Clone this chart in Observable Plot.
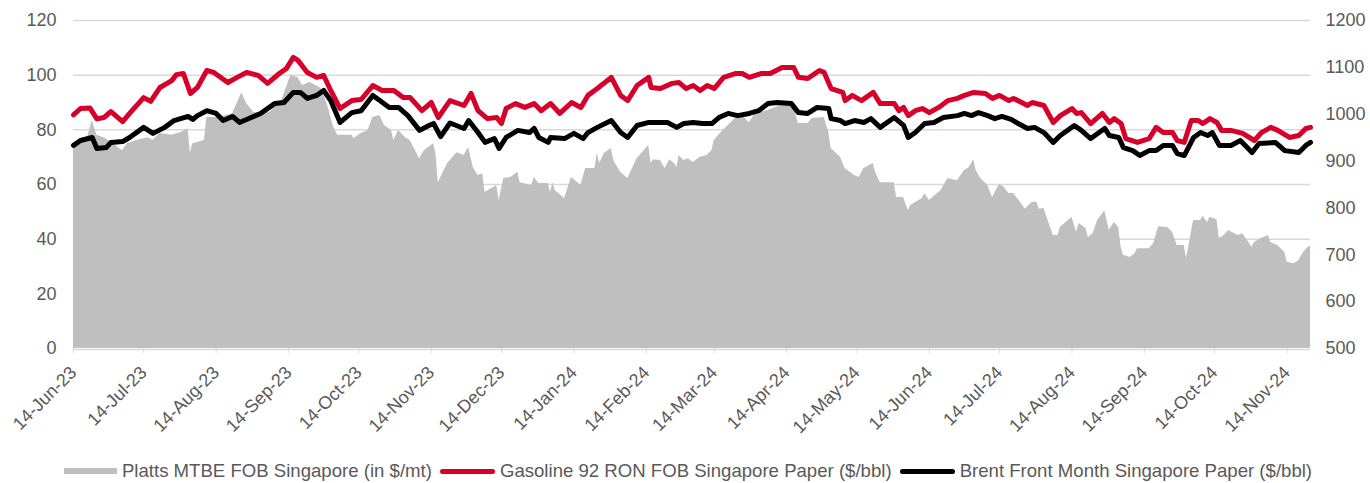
<!DOCTYPE html>
<html><head><meta charset="utf-8">
<script src="https://cdn.jsdelivr.net/npm/d3@7"></script>
<script src="https://cdn.jsdelivr.net/npm/@observablehq/plot@0.6"></script>
<style>
html,body{margin:0;padding:0;background:#fff;}
#chart{width:1370px;height:440px;}
#legend{display:flex;justify-content:center;align-items:center;height:22px;margin-top:20px;padding-left:14px;font-family:"Liberation Sans",Arial,sans-serif;font-size:18.6px;color:#595959;white-space:nowrap;}
.sw{display:inline-block;width:53px;margin-right:5px;}
.item{display:flex;align-items:center;margin-right:8px;}
</style></head>
<body>
<div id="chart"></div>
<div id="legend"></div>
<script>
const seriesNames = ["Platts MTBE FOB Singapore (in $/mt)","Gasoline 92 RON FOB Singapore Paper ($/bbl)","Brent Front Month Singapore Paper ($/bbl)"];
const leftTicks = [0,20,40,60,80,100,120];
const rightTicks = [500,600,700,800,900,1000,1100,1200];

const gasDates = ["2023-06-14","2023-06-17","2023-06-21","2023-06-24","2023-06-27","2023-06-30","2023-07-05","2023-07-08","2023-07-14","2023-07-17","2023-07-21","2023-07-26","2023-07-28","2023-07-31","2023-08-03","2023-08-06","2023-08-10","2023-08-13","2023-08-19","2023-08-23","2023-08-27","2023-09-01","2023-09-05","2023-09-10","2023-09-13","2023-09-16","2023-09-18","2023-09-22","2023-09-26","2023-09-29","2023-10-02","2023-10-06","2023-10-11","2023-10-15","2023-10-20","2023-10-24","2023-10-29","2023-11-02","2023-11-05","2023-11-10","2023-11-14","2023-11-17","2023-11-22","2023-11-28","2023-12-01","2023-12-04","2023-12-08","2023-12-12","2023-12-14","2023-12-16","2023-12-20","2023-12-24","2023-12-28","2023-12-31","2024-01-04","2024-01-08","2024-01-13","2024-01-17","2024-01-20","2024-01-24","2024-01-30","2024-02-03","2024-02-06","2024-02-10","2024-02-15","2024-02-16","2024-02-20","2024-02-25","2024-02-28","2024-03-02","2024-03-05","2024-03-08","2024-03-11","2024-03-14","2024-03-18","2024-03-23","2024-03-26","2024-03-29","2024-04-03","2024-04-07","2024-04-12","2024-04-17","2024-04-19","2024-04-23","2024-04-28","2024-04-30","2024-05-03","2024-05-08","2024-05-09","2024-05-12","2024-05-16","2024-05-21","2024-05-24","2024-05-30","2024-06-01","2024-06-03","2024-06-05","2024-06-08","2024-06-11","2024-06-14","2024-06-18","2024-06-22","2024-06-26","2024-06-29","2024-07-03","2024-07-08","2024-07-11","2024-07-14","2024-07-18","2024-07-20","2024-07-26","2024-07-28","2024-08-02","2024-08-06","2024-08-09","2024-08-14","2024-08-16","2024-08-18","2024-08-22","2024-08-27","2024-08-30","2024-09-01","2024-09-04","2024-09-06","2024-09-11","2024-09-16","2024-09-19","2024-09-22","2024-09-26","2024-09-28","2024-10-01","2024-10-04","2024-10-07","2024-10-09","2024-10-12","2024-10-15","2024-10-17","2024-10-21","2024-10-26","2024-10-31","2024-11-03","2024-11-07","2024-11-10","2024-11-15","2024-11-19","2024-11-22","2024-11-24"];
const gasValues = [85.5,87.8,88,84,84.5,86.7,83,86,91.8,90.4,95.5,98,100.2,100.6,93.3,95.5,101.7,101,97.3,99.2,101,99.9,97,100.6,102.4,106.5,105.4,101,99.2,99.9,94.4,87.8,90.7,91.1,96.2,94.4,94.4,91.8,91.8,87,90,84.5,90.7,88.9,93.3,87,84.1,84.5,82.3,87.8,89.6,88.2,89.6,87,89.6,86,90,88.2,92.6,95.1,99.2,92.6,90.7,96.2,99.2,95.5,95.1,97,97.3,95.1,96.2,94.4,96.2,95.1,99.2,100.6,100.6,99.2,100.6,100.6,102.8,102.8,99.2,98.8,101.7,101,95.1,93.7,90.7,92.6,90.7,93.7,89.6,89.6,87,88.2,85.2,87,87.8,86.3,88.2,90.7,91.5,92.6,93.7,93.3,91.5,92.6,90.7,91.5,88.9,90,88.9,82.7,85.2,87.8,86,86.3,82.3,86,82.7,84.1,82.3,76.8,75.4,76.8,80.9,79,79,76.1,75.4,83.4,83.4,82.3,84.1,82.7,79.8,79.8,78.7,76.1,79,80.9,79.8,77.2,77.9,80.5,80.9];

const brentDates = ["2023-06-14","2023-06-17","2023-06-22","2023-06-24","2023-06-28","2023-06-30","2023-07-05","2023-07-08","2023-07-14","2023-07-18","2023-07-23","2023-07-27","2023-08-02","2023-08-04","2023-08-06","2023-08-10","2023-08-14","2023-08-17","2023-08-21","2023-08-24","2023-08-29","2023-09-02","2023-09-08","2023-09-12","2023-09-16","2023-09-19","2023-09-22","2023-09-26","2023-09-29","2023-10-02","2023-10-06","2023-10-11","2023-10-15","2023-10-20","2023-10-23","2023-10-27","2023-10-31","2023-11-04","2023-11-09","2023-11-13","2023-11-15","2023-11-18","2023-11-22","2023-11-28","2023-11-30","2023-12-04","2023-12-07","2023-12-11","2023-12-13","2023-12-16","2023-12-21","2023-12-26","2023-12-28","2023-12-30","2024-01-03","2024-01-04","2024-01-10","2024-01-14","2024-01-18","2024-01-20","2024-01-24","2024-01-30","2024-02-03","2024-02-06","2024-02-10","2024-02-15","2024-02-20","2024-02-23","2024-02-27","2024-03-01","2024-03-05","2024-03-09","2024-03-13","2024-03-16","2024-03-20","2024-03-24","2024-03-29","2024-04-02","2024-04-06","2024-04-10","2024-04-16","2024-04-19","2024-04-23","2024-04-27","2024-05-02","2024-05-03","2024-05-07","2024-05-09","2024-05-13","2024-05-17","2024-05-20","2024-05-24","2024-05-30","2024-06-03","2024-06-05","2024-06-08","2024-06-12","2024-06-16","2024-06-20","2024-06-26","2024-06-29","2024-07-02","2024-07-05","2024-07-09","2024-07-12","2024-07-15","2024-07-19","2024-07-22","2024-07-26","2024-07-29","2024-08-02","2024-08-06","2024-08-09","2024-08-15","2024-08-18","2024-08-22","2024-08-28","2024-08-30","2024-09-03","2024-09-05","2024-09-09","2024-09-12","2024-09-16","2024-09-19","2024-09-22","2024-09-26","2024-09-28","2024-10-01","2024-10-05","2024-10-08","2024-10-11","2024-10-13","2024-10-16","2024-10-21","2024-10-25","2024-10-30","2024-11-02","2024-11-09","2024-11-13","2024-11-19","2024-11-22","2024-11-24"];
const brentValues = [74.3,76.1,77.2,73.2,73.5,75.4,75.7,77.2,80.9,78.7,80.9,83.4,84.9,83.8,85.2,87,86,83.4,84.9,82.7,84.5,86,89.6,90,93.7,93.7,91.5,92.6,94.4,90.7,82.7,86.3,87,92.6,90.7,88.2,88.2,85.2,79.8,81.6,82.3,77.5,82.5,80.5,83.4,79,75.4,76.8,73.2,77.2,79.8,79,80.5,77.2,75.4,77.2,76.8,78.7,76.8,79,80.9,83.4,79,77.2,81.6,82.7,82.7,82.7,80.9,82.3,82.7,82.3,82.3,84.5,86,85.2,86,87,89.6,90,89.6,86.3,86,88.2,87.8,84.1,83.4,82.3,83.4,82.7,84.1,80.9,84.5,81.6,77.2,79,82.3,82.7,84.5,85.2,86,85.2,86.3,85.2,84.1,84.9,83.8,82.3,80.5,80.9,79,75.4,77.9,81.6,79.8,76.8,80.5,77.9,77.2,73.5,72.4,70.6,72.4,72.4,74.3,74.3,71.3,70.6,77.2,79,77.9,79,74.3,74.3,76.1,71.7,75,75.4,72.4,71.7,74.3,75.4];

const mtbeDates = ["2023-06-14","2023-06-17","2023-06-20","2023-06-22","2023-06-24","2023-06-27","2023-07-01","2023-07-05","2023-07-07","2023-07-11","2023-07-16","2023-07-18","2023-07-21","2023-07-26","2023-07-30","2023-08-02","2023-08-03","2023-08-04","2023-08-09","2023-08-10","2023-08-15","2023-08-21","2023-08-25","2023-08-27","2023-08-30","2023-09-02","2023-09-06","2023-09-11","2023-09-15","2023-09-18","2023-09-20","2023-09-23","2023-09-28","2023-10-01","2023-10-03","2023-10-05","2023-10-11","2023-10-12","2023-10-15","2023-10-18","2023-10-20","2023-10-23","2023-10-25","2023-10-28","2023-10-29","2023-10-31","2023-11-03","2023-11-05","2023-11-09","2023-11-11","2023-11-15","2023-11-16","2023-11-17","2023-11-21","2023-11-25","2023-11-28","2023-11-30","2023-12-02","2023-12-04","2023-12-06","2023-12-07","2023-12-12","2023-12-13","2023-12-15","2023-12-18","2023-12-21","2023-12-22","2023-12-27","2023-12-28","2023-12-30","2024-01-03","2024-01-04","2024-01-05","2024-01-06","2024-01-10","2024-01-13","2024-01-17","2024-01-19","2024-01-23","2024-01-24","2024-01-25","2024-01-27","2024-01-30","2024-01-31","2024-02-03","2024-02-06","2024-02-07","2024-02-10","2024-02-15","2024-02-16","2024-02-17","2024-02-20","2024-02-22","2024-02-24","2024-02-26","2024-02-27","2024-02-28","2024-03-01","2024-03-03","2024-03-05","2024-03-08","2024-03-11","2024-03-13","2024-03-14","2024-03-17","2024-03-20","2024-03-23","2024-03-26","2024-03-29","2024-03-31","2024-04-03","2024-04-06","2024-04-09","2024-04-12","2024-04-15","2024-04-17","2024-04-19","2024-04-23","2024-04-25","2024-04-30","2024-05-02","2024-05-03","2024-05-07","2024-05-09","2024-05-13","2024-05-15","2024-05-17","2024-05-21","2024-05-22","2024-05-24","2024-05-30","2024-05-31","2024-06-03","2024-06-05","2024-06-06","2024-06-11","2024-06-12","2024-06-14","2024-06-19","2024-06-22","2024-06-26","2024-06-29","2024-07-01","2024-07-03","2024-07-04","2024-07-06","2024-07-09","2024-07-11","2024-07-14","2024-07-16","2024-07-18","2024-07-20","2024-07-23","2024-07-25","2024-07-28","2024-07-30","2024-07-31","2024-08-02","2024-08-06","2024-08-08","2024-08-09","2024-08-14","2024-08-16","2024-08-17","2024-08-20","2024-08-21","2024-08-23","2024-08-25","2024-08-28","2024-08-30","2024-09-01","2024-09-03","2024-09-04","2024-09-05","2024-09-08","2024-09-10","2024-09-11","2024-09-16","2024-09-18","2024-09-20","2024-09-24","2024-09-26","2024-09-28","2024-10-01","2024-10-02","2024-10-05","2024-10-08","2024-10-09","2024-10-11","2024-10-12","2024-10-15","2024-10-16","2024-10-18","2024-10-20","2024-10-24","2024-10-26","2024-10-30","2024-10-31","2024-11-03","2024-11-06","2024-11-07","2024-11-10","2024-11-13","2024-11-14","2024-11-17","2024-11-19","2024-11-21","2024-11-23","2024-11-24"];
const mtbeValues = [930,944,950,986,955,950,937,922,937,944,950,944,959,955,961,969,916,937,944,993,993,1001,1046,1023,1004,1001,1004,1029,1083,1078,1061,1068,1055,1014,976,955,955,948,959,965,993,997,976,965,944,965,950,944,905,922,937,916,854,895,918,912,929,886,869,873,833,848,816,863,865,876,854,848,865,852,852,833,854,837,820,865,848,884,884,916,895,916,927,901,876,863,873,905,933,895,903,901,884,903,895,886,912,901,905,897,908,912,922,944,961,976,991,997,982,997,1004,1008,1014,1019,1025,1014,980,980,991,993,961,927,908,884,869,865,884,895,876,854,854,822,822,794,805,820,831,816,837,863,858,880,886,903,880,863,848,822,850,844,831,831,812,797,812,812,797,799,741,741,758,780,748,767,756,737,745,773,794,752,769,758,716,699,694,703,713,713,724,760,758,748,720,720,692,773,773,782,769,780,775,735,741,752,741,745,716,726,735,741,726,720,705,684,681,688,705,716,718];

const xTicks = ["2023-06-14","2023-07-14","2023-08-14","2023-09-14","2023-10-14","2023-11-14","2023-12-14","2024-01-14","2024-02-14","2024-03-14","2024-04-14","2024-05-14","2024-06-14","2024-07-14","2024-08-14","2024-09-14","2024-10-14","2024-11-14"];

const colors = {mtbe:"#bfbfbf", gas:"#d6002a", brent:"#000000"};
const parse = d3.utcParse("%Y-%m-%d");
const toLeft = v => (v - 500) / 700 * 120;
const fromLeft = v => String(Math.round(v * 700 / 120 + 500));

const gas = gasDates.map((d,i)=>({date:parse(d), v:gasValues[i]}));
const brent = brentDates.map((d,i)=>({date:parse(d), v:brentValues[i]}));
const mtbe = mtbeDates.map((d,i)=>({date:parse(d), v:toLeft(mtbeValues[i])}));

const chart = Plot.plot({
  width:1370, height:440,
  marginTop:20, marginBottom:92, marginLeft:73, marginRight:60,
  style:{fontFamily:'"Liberation Sans", Arial, sans-serif', fontSize:"18px", color:"#595959", background:"#fff"},
  x:{type:"utc", domain:[parse("2023-06-14"), parse("2024-11-24")]},
  y:{domain:[0,120]},
  marks:[
    Plot.gridY(leftTicks.slice(1), {stroke:"#d9d9d9", strokeOpacity:1, strokeWidth:1.5}),
    Plot.areaY(mtbe, {x:"date", y:"v", fill:colors.mtbe}),
    Plot.lineY(gas, {x:"date", y:"v", stroke:colors.gas, strokeWidth:5, strokeLinejoin:"round", strokeLinecap:"round"}),
    Plot.lineY(brent, {x:"date", y:"v", stroke:colors.brent, strokeWidth:5, strokeLinejoin:"round", strokeLinecap:"round"}),
    Plot.ruleY([0], {stroke:"#d9d9d9", strokeWidth:1.5, dy:1}),
    Plot.axisY({ticks:leftTicks, tickSize:0, tickPadding:17, label:null, fill:"#595959"}),
    Plot.axisY({anchor:"right", ticks:rightTicks.map(toLeft), tickFormat:fromLeft, tickSize:0, tickPadding:15, label:null, fill:"#595959", textAnchor:"start"}),
    Plot.axisX({ticks:xTicks.map(parse), tickFormat:d3.utcFormat("%d-%b-%y"), tickRotate:-45, tickSize:5, tickPadding:16, label:null, stroke:"#d9d9d9", fill:"#595959"})
  ]
});
document.getElementById("chart").appendChild(chart);

const legend = document.getElementById("legend");
const items = [
  {name:seriesNames[0], html:'<span class="sw" style="height:6px;background:'+colors.mtbe+'"></span>'},
  {name:seriesNames[1], html:'<span class="sw" style="height:5px;border-radius:3px;background:'+colors.gas+';width:55px"></span>'},
  {name:seriesNames[2], html:'<span class="sw" style="height:5px;border-radius:3px;background:'+colors.brent+';width:55px"></span>'}
];
items.forEach(it=>{
  const s = document.createElement("span");
  s.className="item";
  s.innerHTML = it.html + '<span>'+it.name+'</span>';
  legend.appendChild(s);
});
</script>
</body></html>
